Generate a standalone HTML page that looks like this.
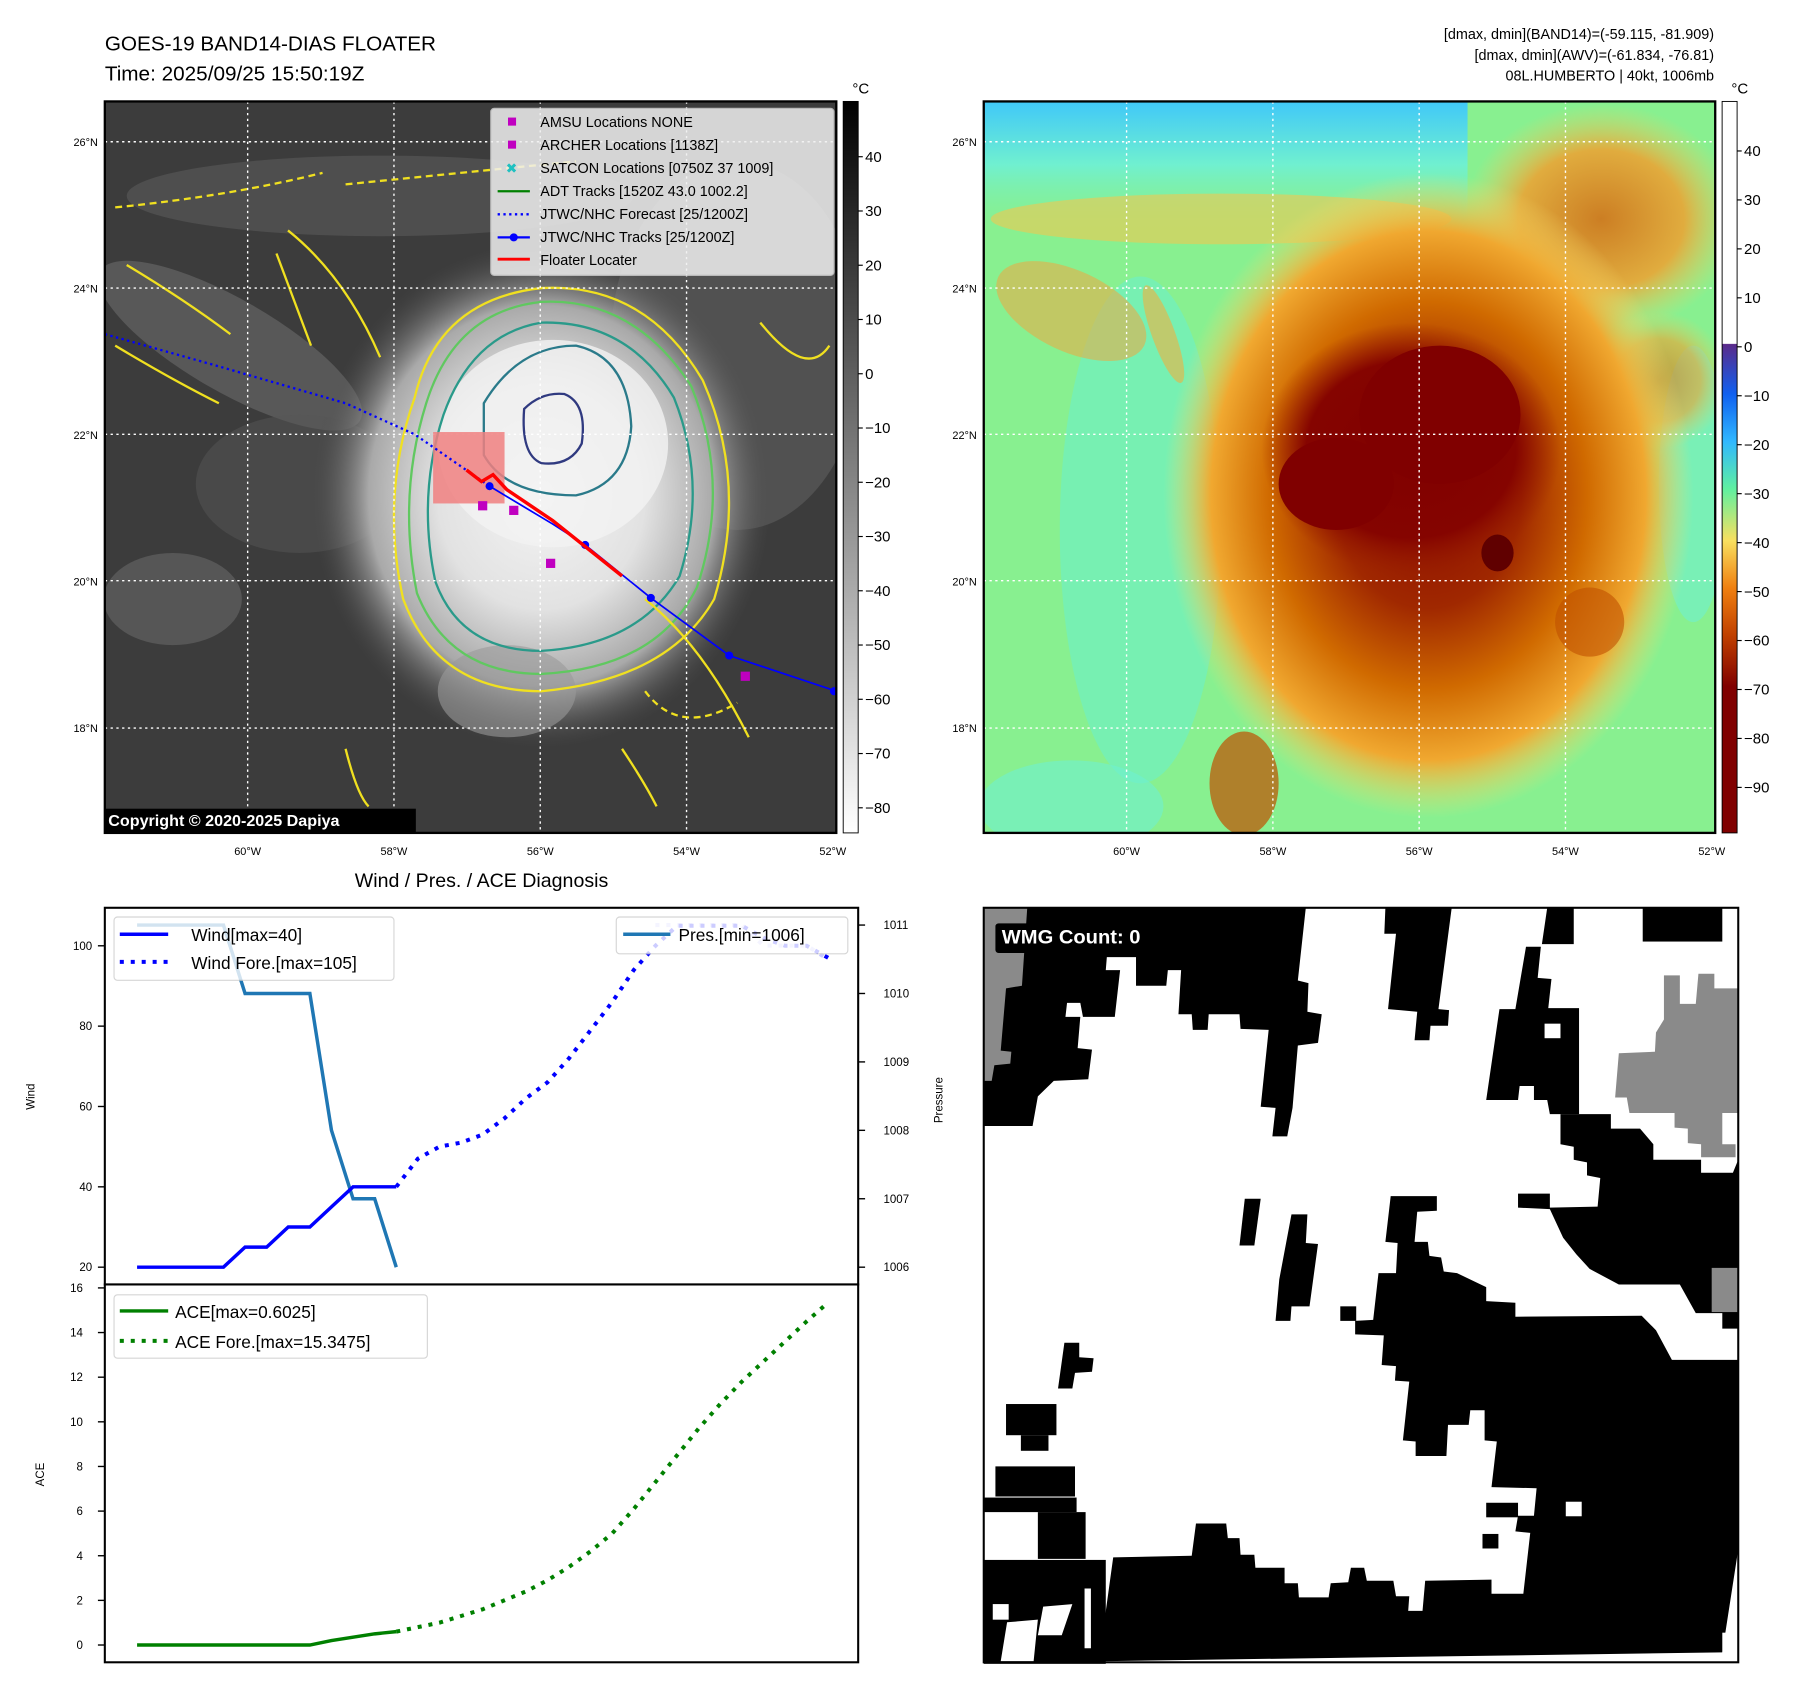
<!DOCTYPE html>
<html><head><meta charset="utf-8"><style>
html,body{margin:0;padding:0;background:#fff;}
svg{display:block;font-family:"Liberation Sans","DejaVu Sans",sans-serif;}
</style></head><body>
<svg id="fig" width="1797" height="1690" viewBox="0 0 1560 1467" xmlns="http://www.w3.org/2000/svg">
<defs>
<radialGradient id="storm" cx="0.5" cy="0.5" r="0.5">
<stop offset="0" stop-color="#f4f4f4"/><stop offset="0.45" stop-color="#e2e2e2"/><stop offset="0.75" stop-color="#a9a9a9"/><stop offset="1" stop-color="#4a4a4a" stop-opacity="0"/>
</radialGradient>
<radialGradient id="blobO" cx="0.5" cy="0.5" r="0.5">
<stop offset="0" stop-color="#8a0a00"/><stop offset="0.35" stop-color="#a02800"/><stop offset="0.6" stop-color="#d06a00"/><stop offset="0.82" stop-color="#f0a830"/><stop offset="1" stop-color="#f6e070" stop-opacity="0"/>
</radialGradient>
<radialGradient id="core" cx="0.5" cy="0.5" r="0.5">
<stop offset="0" stop-color="#800000"/><stop offset="0.7" stop-color="#850400"/><stop offset="1" stop-color="#9a2000" stop-opacity="0"/>
</radialGradient>
<radialGradient id="orangeSoft" cx="0.5" cy="0.5" r="0.5">
<stop offset="0" stop-color="#d86a10"/><stop offset="0.6" stop-color="#f0a030"/><stop offset="1" stop-color="#f6d060" stop-opacity="0"/>
</radialGradient>
<linearGradient id="cbGray" x1="0" y1="0" x2="0" y2="1"><stop offset="0" stop-color="#000"/><stop offset="1" stop-color="#fff"/></linearGradient>
<linearGradient id="cbJet" x1="0" y1="0" x2="0" y2="1">
<stop offset="0" stop-color="#ffffff"/><stop offset="0.331" stop-color="#ffffff"/><stop offset="0.332" stop-color="#5a2a8a"/>
<stop offset="0.4" stop-color="#1060f0"/><stop offset="0.465" stop-color="#30b8ff"/><stop offset="0.53" stop-color="#60f0a0"/>
<stop offset="0.6" stop-color="#f8e060"/><stop offset="0.665" stop-color="#f08010"/><stop offset="0.73" stop-color="#c04000"/><stop offset="0.8" stop-color="#800000"/><stop offset="1" stop-color="#800000"/>
</linearGradient>
<linearGradient id="skyR" x1="0" y1="0" x2="0" y2="1"><stop offset="0" stop-color="#40c8f8"/><stop offset="0.5" stop-color="#70f0d0"/><stop offset="1" stop-color="#80f0a0" stop-opacity="0"/></linearGradient>
<clipPath id="clipL"><rect x="91" y="88" width="635" height="635"/></clipPath>
<clipPath id="clipR"><rect x="854" y="88" width="635" height="635"/></clipPath>
<clipPath id="clipW"><rect x="91" y="788" width="654" height="327"/></clipPath>
</defs>

<text x="91" y="44" font-size="18">GOES-19 BAND14-DIAS FLOATER</text>
<text x="91" y="70" font-size="18">Time: 2025/09/25 15:50:19Z</text>
<g font-size="12.5" text-anchor="end">
<text x="1488" y="34">[dmax, dmin](BAND14)=(-59.115, -81.909)</text>
<text x="1488" y="52">[dmax, dmin](AWV)=(-61.834, -76.81)</text>
<text x="1488" y="70">08L.HUMBERTO | 40kt, 1006mb</text>
</g>

<g clip-path="url(#clipL)">
<rect x="91" y="88" width="635" height="635" fill="#3c3c3c"/>
<ellipse cx="200" cy="300" rx="130" ry="40" fill="#6a6a6a" opacity="0.6" transform="rotate(30 200 300)"/>
<ellipse cx="330" cy="170" rx="220" ry="35" fill="#5a5a5a" opacity="0.6"/>
<ellipse cx="150" cy="520" rx="60" ry="40" fill="#707070" opacity="0.5"/>
<ellipse cx="260" cy="420" rx="90" ry="60" fill="#555" opacity="0.5"/>
<ellipse cx="640" cy="300" rx="110" ry="160" fill="#5a5a5a" opacity="0.7"/>
<ellipse cx="470" cy="430" rx="200" ry="220" fill="url(#storm)"/>
<ellipse cx="480" cy="385" rx="100" ry="90" fill="#f2f2f2" opacity="0.8"/>
<ellipse cx="440" cy="600" rx="60" ry="40" fill="#9a9a9a" opacity="0.6"/>
<g fill="none" stroke-width="2">
<path d="M360,345 Q380,260 470,250 Q560,245 610,330 Q650,420 620,520 Q580,590 470,600 Q380,600 350,520 Q330,430 360,345Z" stroke="#f0e020"/>
<path d="M370,350 Q395,270 470,262 Q550,258 600,335 Q635,420 605,510 Q570,580 470,585 Q390,585 362,515 Q345,430 370,350Z" stroke="#60c860"/>
<path d="M385,360 Q410,290 470,280 Q545,278 585,345 Q615,420 590,500 Q555,560 470,565 Q400,565 378,505 Q362,430 385,360Z" stroke="#2a9a8a"/>
<path d="M420,350 Q450,300 500,300 Q545,310 548,370 Q545,420 500,430 Q440,430 420,395Z" stroke="#2a7a8a"/>
<path d="M455,355 Q470,340 490,342 Q510,350 505,385 Q495,405 470,402 Q452,395 455,355Z" stroke="#303a80"/>
<path d="M110,230 Q160,260 200,290 M100,300 Q150,330 190,350 M240,220 L270,300 M250,200 Q300,240 330,310 M560,520 Q610,560 650,640 M300,650 Q310,690 320,700 M540,650 Q560,680 570,700 M660,280 Q700,330 720,300" stroke="#f0e020"/>
<path d="M100,180 Q200,170 280,150 M300,160 Q400,150 500,140 M560,600 Q590,640 640,610" stroke="#f0e020" stroke-dasharray="6 4"/>
</g>
<g stroke="#fff" stroke-width="1.2" stroke-dasharray="2 3" fill="none">
<line x1="215" y1="88" x2="215" y2="723"/><line x1="342" y1="88" x2="342" y2="723"/><line x1="469" y1="88" x2="469" y2="723"/><line x1="596" y1="88" x2="596" y2="723"/>
<line x1="91" y1="123" x2="726" y2="123"/><line x1="91" y1="250" x2="726" y2="250"/><line x1="91" y1="377" x2="726" y2="377"/><line x1="91" y1="504" x2="726" y2="504"/><line x1="91" y1="632" x2="726" y2="632"/>
</g>
<rect x="376" y="375" width="62" height="62" fill="#f08080" opacity="0.85"/>
<polyline points="91,290 190,318 300,350 360,377 425,422" fill="none" stroke="#0000ff" stroke-width="2" stroke-dasharray="2 3"/>
<polyline points="425,422 480,455 508,473 565,519 633,569 726,600" fill="none" stroke="#0000ff" stroke-width="1.5"/>
<g fill="#0000ff"><circle cx="425" cy="422" r="3.5"/><circle cx="508" cy="473" r="3.5"/><circle cx="565" cy="519" r="3.5"/><circle cx="633" cy="569" r="3.5"/><circle cx="724" cy="600" r="3.5"/></g>
<polyline points="405,408 418,418 428,412 440,425 480,452 540,500" fill="none" stroke="#ff0000" stroke-width="3"/>
<g fill="#c000c0"><rect x="415" y="435" width="8" height="8"/><rect x="442" y="439" width="8" height="8"/><rect x="474" y="485" width="8" height="8"/><rect x="643" y="583" width="8" height="8"/></g>
<g>
<rect x="426" y="94" width="298" height="145" rx="3" fill="#f0f0f0" opacity="0.85" stroke="#ccc"/>
<g font-size="12.5" fill="#000">
<rect x="441" y="102" width="7" height="7" fill="#c000c0"/><text x="469" y="110">AMSU Locations NONE</text>
<rect x="441" y="122" width="7" height="7" fill="#c000c0"/><text x="469" y="130">ARCHER Locations [1138Z]</text>
<text x="439" y="150" fill="#20c0c0" font-weight="bold" font-size="12">✖</text><text x="469" y="150">SATCON Locations [0750Z 37 1009]</text>
<line x1="432" y1="166" x2="460" y2="166" stroke="#008000" stroke-width="2"/><text x="469" y="170">ADT Tracks [1520Z 43.0 1002.2]</text>
<line x1="432" y1="186" x2="460" y2="186" stroke="#0000ff" stroke-width="2" stroke-dasharray="2 3"/><text x="469" y="190">JTWC/NHC Forecast [25/1200Z]</text>
<line x1="432" y1="206" x2="460" y2="206" stroke="#0000ff" stroke-width="2"/><circle cx="446" cy="206" r="3.5" fill="#0000ff"/><text x="469" y="210">JTWC/NHC Tracks [25/1200Z]</text>
<line x1="432" y1="225" x2="460" y2="225" stroke="#ff0000" stroke-width="2.5"/><text x="469" y="230">Floater Locater</text>
</g></g>
<rect x="91" y="702" width="270" height="21" fill="#000"/>
<text x="94" y="717" font-size="14" font-weight="bold" fill="#fff">Copyright © 2020-2025 Dapiya</text>
</g>
<rect x="91" y="88" width="635" height="635" fill="none" stroke="#000" stroke-width="2"/>
<rect x="732" y="88" width="13" height="635" fill="url(#cbGray)" stroke="#000" stroke-width="0.8"/>
<text x="740" y="81" font-size="13">°C</text>
<g id="cbLticks" font-size="13"></g>

<g clip-path="url(#clipR)">
<rect x="854" y="88" width="635" height="635" fill="#88f090"/>
<rect x="854" y="88" width="420" height="110" fill="url(#skyR)"/>
<ellipse cx="990" cy="460" rx="70" ry="220" fill="#70f0c0" opacity="0.7"/>
<ellipse cx="930" cy="700" rx="80" ry="40" fill="#70f0d0" opacity="0.6"/>
<ellipse cx="1470" cy="420" rx="30" ry="120" fill="#70f0d0" opacity="0.6"/>
<ellipse cx="1060" cy="190" rx="200" ry="22" fill="#f0c850" opacity="0.6"/>
<ellipse cx="930" cy="270" rx="70" ry="35" fill="#f0a840" opacity="0.55" transform="rotate(25 930 270)"/>
<ellipse cx="1010" cy="290" rx="10" ry="45" fill="#f0b040" opacity="0.6" transform="rotate(-20 1010 290)"/>
<ellipse cx="1390" cy="190" rx="120" ry="100" fill="url(#orangeSoft)" opacity="0.85"/>
<ellipse cx="1440" cy="330" rx="60" ry="60" fill="url(#orangeSoft)" opacity="0.6"/>
<ellipse cx="1240" cy="430" rx="230" ry="280" fill="url(#blobO)"/>
<ellipse cx="1225" cy="390" rx="130" ry="110" fill="url(#core)"/>
<ellipse cx="1250" cy="360" rx="70" ry="60" fill="#800000"/>
<ellipse cx="1160" cy="420" rx="50" ry="40" fill="#800000"/>
<ellipse cx="1300" cy="480" rx="14" ry="16" fill="#600000"/>
<ellipse cx="1080" cy="680" rx="30" ry="45" fill="#c05000" opacity="0.7"/>
<ellipse cx="1380" cy="540" rx="30" ry="30" fill="#c05000" opacity="0.6"/>
<g stroke="#fff" stroke-width="1.2" stroke-dasharray="2 3" fill="none">
<line x1="978" y1="88" x2="978" y2="723"/><line x1="1105" y1="88" x2="1105" y2="723"/><line x1="1232" y1="88" x2="1232" y2="723"/><line x1="1359" y1="88" x2="1359" y2="723"/>
<line x1="854" y1="123" x2="1489" y2="123"/><line x1="854" y1="250" x2="1489" y2="250"/><line x1="854" y1="377" x2="1489" y2="377"/><line x1="854" y1="504" x2="1489" y2="504"/><line x1="854" y1="632" x2="1489" y2="632"/>
</g>
</g>
<rect x="854" y="88" width="635" height="635" fill="none" stroke="#000" stroke-width="2"/>
<rect x="1495" y="88" width="13" height="635" fill="url(#cbJet)" stroke="#000" stroke-width="0.8"/>
<text x="1503" y="81" font-size="13">°C</text>
<g id="cbRticks" font-size="13"></g>
<g id="mapTicks" font-size="9.5"></g>

<text x="418" y="770" font-size="17" text-anchor="middle">Wind / Pres. / ACE Diagnosis</text>
<g id="windPlot" clip-path="url(#clipW)"></g>
<g id="acePlot"></g>
<rect x="91" y="788" width="654" height="327" fill="none" stroke="#000" stroke-width="1.8"/>
<rect x="91" y="1115" width="654" height="328" fill="none" stroke="#000" stroke-width="1.8"/>
<g id="axesText" font-size="10"></g>
<text transform="translate(30 952) rotate(-90)" font-size="10" text-anchor="middle">Wind</text>
<text transform="translate(818 955) rotate(-90)" font-size="10" text-anchor="middle">Pressure</text>
<text transform="translate(38 1280) rotate(-90)" font-size="10" text-anchor="middle">ACE</text>
<g>
<rect x="99" y="796" width="243" height="55" rx="3" fill="#fff" opacity="0.8" stroke="#ccc"/>
<line x1="104" y1="811" x2="146" y2="811" stroke="#0000ff" stroke-width="3"/>
<line x1="104" y1="835" x2="146" y2="835" stroke="#0000ff" stroke-width="3.5" stroke-dasharray="3.5 6"/>
<text x="166" y="817" font-size="15">Wind[max=40]</text>
<text x="166" y="841" font-size="15">Wind Fore.[max=105]</text>
</g>
<g>
<rect x="535" y="796" width="201" height="32" rx="3" fill="#fff" opacity="0.8" stroke="#ccc"/>
<line x1="541" y1="811" x2="582" y2="811" stroke="#1f77b4" stroke-width="3"/>
<text x="589" y="817" font-size="15">Pres.[min=1006]</text>
</g>
<g>
<rect x="99" y="1124" width="272" height="55" rx="3" fill="#fff" opacity="0.8" stroke="#ccc"/>
<line x1="104" y1="1138" x2="146" y2="1138" stroke="#008000" stroke-width="3"/>
<line x1="104" y1="1164" x2="146" y2="1164" stroke="#008000" stroke-width="3.5" stroke-dasharray="3.5 6"/>
<text x="152" y="1144" font-size="15">ACE[max=0.6025]</text>
<text x="152" y="1170" font-size="15">ACE Fore.[max=15.3475]</text>
</g>

<g>
<rect x="854" y="788" width="655" height="655" fill="#fff"/>
<g transform="translate(854 788) scale(0.4606 0.4511) translate(-18 -45)">
<g fill="#000">
<polygon points="18,45 625,45 610,185 630,190 628,245 655,250 648,305 610,310 600,430 590,485 562,485 568,430 540,428 555,280 502,278 500,250 442,250 440,280 412,280 410,250 385,250 390,165 365,165 362,195 305,195 305,140 250,140 248,165 275,165 265,255 205,255 200,228 175,228 172,255 200,255 195,315 222,318 215,375 150,378 120,408 110,465 18,465"/>
<polygon points="775,45 900,45 875,240 895,242 893,272 860,272 858,300 830,300 835,245 780,240 795,95 773,95"/>
<polygon points="1080,45 1130,45 1130,115 1070,115"/>
<rect x="1260" y="45" width="150" height="65"/>
<polygon points="1040,120 1068,120 1062,180 1088,182 1082,238 1140,238 1140,442 1085,442 1080,415 1055,415 1055,388 1028,388 1025,415 965,415 990,240 1020,240 1030,180"/>
<polygon points="1105,442 1200,442 1200,470 1255,470 1280,500 1280,530 1370,530 1370,555 1430,555 1440,530 1440,855 1410,855 1410,825 1360,825 1330,770 1215,770 1160,740 1135,712 1110,680 1085,625 1025,622 1025,595 1085,595 1085,622 1175,620 1180,565 1155,560 1155,535 1130,530 1130,505 1105,500"/>
<polygon points="785,600 872,600 872,628 835,630 830,688 855,688 858,715 880,718 885,745 910,748 965,775 965,802 1020,805 1020,832 1258,830 1285,858 1315,915 1440,915 1440,1280 1410,1478 235,1495 262,1295 410,1292 418,1230 475,1230 478,1258 500,1258 502,1290 528,1290 530,1315 585,1315 585,1345 610,1345 612,1372 668,1372 672,1345 705,1343 710,1315 735,1315 740,1340 790,1340 795,1370 820,1370 818,1398 845,1398 850,1340 975,1338 975,1365 1035,1365 1048,1248 1020,1245 1025,1215 1055,1215 1060,1162 975,1160 985,1072 962,1070 962,1012 935,1012 932,1040 893,1040 890,1100 832,1100 832,1072 808,1070 820,957 793,955 795,927 768,925 772,868 718,866 718,840 752,838 762,748 795,748 798,690 775,688"/>
<polygon points="510,605 540,605 528,695 500,695"/>
<polygon points="598,635 628,635 625,690 648,692 632,812 598,812 596,840 568,840 575,760"/>
<rect x="690" y="812" width="30" height="28"/>
<rect x="965" y="1190" width="60" height="28"/><rect x="958" y="1250" width="30" height="28"/>
<polygon points="170,882 198,882 198,910 225,912 222,938 190,940 185,970 158,970"/>
<rect x="60" y="1000" width="95" height="60"/><rect x="88" y="1060" width="52" height="30"/>
<rect x="40" y="1120" width="150" height="58"/><rect x="18" y="1180" width="175" height="28"/>
<rect x="120" y="1208" width="90" height="90"/><rect x="18" y="1300" width="230" height="200"/>
</g>
<g fill="#fff"><rect x="1115" y="1188" width="30" height="28"/><rect x="1075" y="268" width="30" height="28"/><rect x="35" y="1385" width="30" height="30"/><polygon points="50,1495 62,1420 120,1415 112,1495"/><polygon points="130,1390 185,1385 165,1445 120,1445"/><rect x="208" y="1355" width="12" height="115"/><rect x="1410" y="1440" width="30" height="55"/></g>
<g fill="#8a8a8a">
<polygon points="18,45 100,45 90,195 60,200 50,320 70,322 68,345 38,348 33,378 18,378"/>
<polygon points="1300,175 1330,175 1330,230 1360,230 1365,172 1395,172 1395,200 1440,200 1440,440 1410,440 1410,500 1435,500 1435,525 1370,525 1370,500 1345,498 1345,470 1320,468 1320,440 1235,440 1230,410 1208,410 1215,325 1283,322 1285,285 1300,260"/>
<rect x="1390" y="738" width="50" height="85"/>
</g>
<rect x="40" y="75" width="330" height="57" rx="6" fill="#000"/>
<text x="52" y="114" font-size="38" font-weight="bold" fill="#fff">WMG Count: 0</text>
</g>
<rect x="854" y="788" width="655" height="655" fill="none" stroke="#000" stroke-width="1.8"/>
</g>
</svg>
<script>
var windObs = [20,20,20,20,20,25,25,30,30,35,40,40,40];
var windFore = [40,47,50,51,53,57,62,66,72,79,86,94,100,105,105,105,105,102,100,100,97];
var presObs = [1011,1011,1011,1011,1011,1010,1010,1010,1010,1008,1007,1007,1006];
var presFore = [1011,1011,1011,1011,1011,1010.7,1010.7,1010.7,1010.5];
var aceObs = [0,0,0,0,0,0,0,0,0,0.2,0.35,0.5,0.6];
var aceFore = [0.6,0.8,1.0,1.3,1.6,2.0,2.4,2.9,3.5,4.2,5.0,6.1,7.3,8.5,9.7,10.8,11.8,12.7,13.6,14.5,15.35];
var windTicks = [20,40,60,80,100];
var presTicks = [1006,1007,1008,1009,1010,1011];
var aceTicks = [0,2,4,6,8,10,12,14,16];
var cbLeftTicks = [40,30,20,10,0,-10,-20,-30,-40,-50,-60,-70,-80];
var cbRightTicks = [40,30,20,10,0,-10,-20,-30,-40,-50,-60,-70,-80,-90];
var lonTicks = [-60,-58,-56,-54,-52];
var latTicks = [26,24,22,20,18];
var foreStart = 12, presForeStart = 24;

var NS='http://www.w3.org/2000/svg';
function xIdx(i){return 119+i*18.75;}
function yWind(v){return 1100-(v-20)*3.4875;}
function yPres(p){return 1100-(p-1006)*59.4;}
function yAce(a){return 1428-a*19.375;}
function yCbL(v){return 136+(40-v)*4.71;}
function yCbR(v){return 131+(40-v)*4.25;}
function xLon(l){return 215+(l+60)*63.5;}
function yLat(l){return 123+(26-l)*63.6;}
function mk(tag,attrs,parent){var e=document.createElementNS(NS,tag);for(var k in attrs)e.setAttribute(k,attrs[k]);parent.appendChild(e);return e;}
function pts(arr,off,fy){return arr.map(function(v,i){return xIdx(i+off)+','+fy(v);}).join(' ');}

var wp=document.getElementById('windPlot');
var l1=mk('polyline',{points:pts(presObs,0,yPres),fill:'none',stroke:'#1f77b4','stroke-width':3},wp);


var l2=mk('polyline',{points:pts(presFore,presForeStart,yPres),fill:'none',stroke:'#c8c8ff','stroke-width':3.5,'stroke-dasharray':'3.5 6'},wp);


var l3=mk('polyline',{points:pts(windObs,0,yWind),fill:'none',stroke:'#0000ff','stroke-width':3},wp);


var l4=mk('polyline',{points:pts(windFore,foreStart,yWind),fill:'none',stroke:'#0000ff','stroke-width':3.5,'stroke-dasharray':'3.5 6'},wp);



var ap=document.getElementById('acePlot');
var l5=mk('polyline',{points:pts(aceObs,0,yAce),fill:'none',stroke:'#008000','stroke-width':3},ap);


var l6=mk('polyline',{points:pts(aceFore,foreStart,yAce),fill:'none',stroke:'#008000','stroke-width':3.5,'stroke-dasharray':'3.5 6'},ap);



var at=document.getElementById('axesText');
windTicks.forEach(function(v){var y=yWind(v);
 mk('line',{x1:85,y1:y,x2:91,y2:y,stroke:'#000','stroke-width':1.2},at);
 var t=mk('text',{x:80,y:y+3.5,'text-anchor':'end'},at);t.textContent=v;
 
 });
presTicks.forEach(function(v){var y=yPres(v);
 mk('line',{x1:745,y1:y,x2:751,y2:y,stroke:'#000','stroke-width':1.2},at);
 var t=mk('text',{x:767,y:y+3.5},at);t.textContent=v;
 
 });
aceTicks.forEach(function(v){var y=yAce(v);
 mk('line',{x1:85,y1:y,x2:91,y2:y,stroke:'#000','stroke-width':1.2},at);
 var t=mk('text',{x:72,y:y+3.5,'text-anchor':'end'},at);t.textContent=v;
 
 });

var cl=document.getElementById('cbLticks');
cbLeftTicks.forEach(function(v){var y=yCbL(v);
 mk('line',{x1:745,y1:y,x2:749,y2:y,stroke:'#000'},cl);
 var t=mk('text',{x:751,y:y+4.5},cl);t.textContent=(v<0?'\u2212'+(-v):v);
 
 });
var cr=document.getElementById('cbRticks');
cbRightTicks.forEach(function(v){var y=yCbR(v);
 mk('line',{x1:1508,y1:y,x2:1512,y2:y,stroke:'#000'},cr);
 var t=mk('text',{x:1514,y:y+4.5},cr);t.textContent=(v<0?'\u2212'+(-v):v);
 
 });

var mt=document.getElementById('mapTicks');
[0,763].forEach(function(off){
 lonTicks.forEach(function(l){var t=mk('text',{x:xLon(l)+off,y:742,'text-anchor':'middle'},mt);t.textContent=(-l)+'°W';
  
  });
 latTicks.forEach(function(l){var t=mk('text',{x:85+off,y:yLat(l)+3.5,'text-anchor':'end'},mt);t.textContent=l+'°N';
  
  });
});
</script>
</body></html>
